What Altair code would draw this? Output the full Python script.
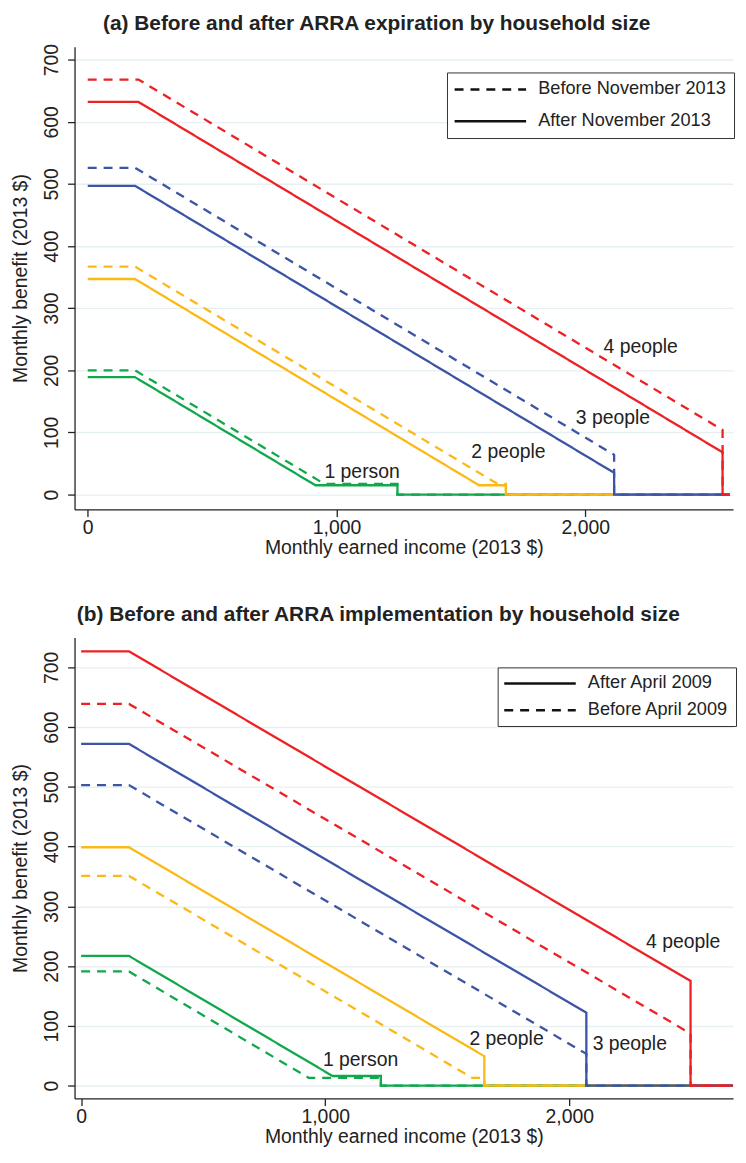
import altair as alt
import pandas as pd

FONT = "Liberation Sans, Arial, sans-serif"
TXT = "#222222"
FS = 19.5          # axis / label text size
LEG_FS = 18.3      # legend text size

HOUSEHOLDS = ["1 person", "2 people", "3 people", "4 people"]
COLORS = ["#11A84C", "#FBB916", "#3B54A5", "#ED2024"]
Y_TICKS = [0, 100, 200, 300, 400, 500, 600, 700]
X_TICKS = [0, 1000, 2000]

# ---------- panel (a): ARRA expiration (2013 $) ----------
A_TITLE = "(a) Before and after ARRA expiration by household size"
A_BEFORE = "Before November 2013"
A_AFTER = "After November 2013"
A_BEFORE_X = [[0, 190, 952, 1245, 1245, 2581],
              [0, 190, 1648, 1681, 1681, 2581],
              [0, 190, 2116, 2116, 2581],
              [0, 204, 2552, 2552, 2581]]
A_BEFORE_Y = [[200, 200, 17, 17, 0, 0],
              [367, 367, 17, 17, 0, 0],
              [526, 526, 64, 0, 0],
              [668, 668, 104, 0, 0]]
A_AFTER_X = [[0, 190, 915, 1245, 1245, 2581],
             [0, 190, 1573, 1681, 1681, 2581],
             [0, 190, 2116, 2116, 2581],
             [0, 204, 2552, 2552, 2581]]
A_AFTER_Y = [[189, 189, 15, 15, 0, 0],
             [347, 347, 15, 15, 0, 0],
             [497, 497, 35, 0, 0],
             [632, 632, 68, 0, 0]]
A_LABEL_X = [1103, 1691, 2111, 2223]
A_LABEL_Y = [37, 69, 123, 237]
A_XDOM = [-53, 2594]
A_YDOM = [-24, 721]

# ---------- panel (b): ARRA implementation (2013 $) ----------
B_TITLE = "(b) Before and after ARRA implementation by household size"
B_BEFORE = "Before April 2009"
B_AFTER = "After April 2009"
B_BEFORE_X = [[0, 196, 932, 1228, 1228, 2671],
              [0, 196, 1602, 1652, 1652, 2671],
              [0, 196, 2070, 2070, 2671],
              [0, 196, 2497, 2497, 2671]]
B_BEFORE_Y = [[191, 191, 13, 13, 0, 0],
              [351, 351, 13, 13, 0, 0],
              [503, 503, 53, 0, 0],
              [639, 639, 87, 0, 0]]
B_AFTER_X = [[0, 196, 1030, 1228, 1228, 2671],
             [0, 196, 1652, 1652, 2671],
             [0, 196, 2070, 2070, 2671],
             [0, 196, 2497, 2497, 2671]]
B_AFTER_Y = [[217, 217, 16, 16, 0, 0],
             [399, 399, 49, 0, 0],
             [572, 572, 122, 0, 0],
             [727, 727, 175, 0, 0]]
B_LABEL_X = [1145, 1743, 2248, 2467]
B_LABEL_Y = [43, 78, 69, 241]
B_XDOM = [-27, 2671]
B_YDOM = [-21.6, 750]

DASH = [9, 7]
SOLID = [1, 0]
PLOT_W = 663

# legend sample: a 72px wide stroke drawn as a custom path (keeps rows compact)
SYM_PATH = "M-9,0H9"
SYM_SIZE = 64
SYM_OFFSET = 26.5
LAB_OFFSET = 39


def panel(title, before, after, bx, by, ax, ay, legend_order, lx, ly, xdom, ydom,
          leg_x, leg_y, row_pad, leg_pad, height, title_offset):
    rows = []
    for k, hh in enumerate(HOUSEHOLDS):
        for period, xs, ys in [(before, bx[k], by[k]), (after, ax[k], ay[k])]:
            for i, (xv, yv) in enumerate(zip(xs, ys)):
                rows.append({"x": xv, "y": yv, "hh": hh, "period": period,
                             "key": hh + "|" + period, "i": i})
    df = pd.DataFrame(rows)
    dash_range = [DASH if p == before else SOLID for p in legend_order]

    xenc = alt.X("x:Q", scale=alt.Scale(domain=xdom, nice=False, zero=False),
                 axis=alt.Axis(values=X_TICKS, format=",d", title="Monthly earned income (2013 $)",
                               grid=False, labelFlush=False))
    yenc = alt.Y("y:Q", scale=alt.Scale(domain=ydom, nice=False, zero=False),
                 axis=alt.Axis(values=Y_TICKS, title="Monthly benefit (2013 $)", grid=True,
                               labelFlush=False))
    cenc = alt.Color("hh:N", scale=alt.Scale(domain=HOUSEHOLDS, range=COLORS), legend=None)
    denc = alt.StrokeDash(
        "period:N", title=None,
        scale=alt.Scale(domain=legend_order, range=dash_range),
        legend=alt.Legend(orient="none", legendX=leg_x, legendY=leg_y, direction="vertical",
                          symbolType=SYM_PATH, symbolSize=SYM_SIZE, symbolOffset=SYM_OFFSET,
                          symbolStrokeWidth=2.4, symbolStrokeColor="#111111",
                          labelFontSize=LEG_FS, labelLimit=400, labelOffset=LAB_OFFSET,
                          labelColor=TXT, fillColor="white", strokeColor="#333333",
                          padding=leg_pad, rowPadding=row_pad, cornerRadius=0))

    layers = []
    for hh in HOUSEHOLDS:
        for period in [before, after]:
            key = hh + "|" + period
            layers.append(
                alt.Chart(df).transform_filter(alt.datum.key == key)
                .mark_line(strokeWidth=2.3, strokeCap="butt")
                .encode(x=xenc, y=yenc, color=cenc, strokeDash=denc, order=alt.Order("i:Q"))
            )
    lab = pd.DataFrame({"x": lx, "y": ly, "label": HOUSEHOLDS})
    layers.append(
        alt.Chart(lab).mark_text(fontSize=FS, color=TXT, align="center", baseline="middle")
        .encode(x=xenc, y=yenc, text="label:N")
    )
    return alt.layer(*layers).properties(
        width=PLOT_W, height=height,
        title=alt.TitleParams(title, anchor="middle", frame="bounds", fontSize=21,
                              fontWeight="bold", offset=title_offset, color=TXT, dx=4))


top = panel(A_TITLE, A_BEFORE, A_AFTER, A_BEFORE_X, A_BEFORE_Y, A_AFTER_X, A_AFTER_Y,
            [A_BEFORE, A_AFTER], A_LABEL_X, A_LABEL_Y, A_XDOM, A_YDOM, 375, 26, 13, 8,
            466, 10)
bottom = panel(B_TITLE, B_BEFORE, B_AFTER, B_BEFORE_X, B_BEFORE_Y, B_AFTER_X, B_AFTER_Y,
               [B_AFTER, B_BEFORE], B_LABEL_X, B_LABEL_Y, B_XDOM, B_YDOM, 426, 30, 8, 7,
               464, 12.5)

chart = (
    alt.vconcat(top, bottom, spacing=47)
    .resolve_scale(x="independent", y="independent", color="independent", strokeDash="independent")
    .resolve_legend(strokeDash="independent")
    .properties(padding={"left": 3, "top": 0, "right": 0, "bottom": 0})
    .configure(font=FONT)
    .configure_view(strokeOpacity=0)
    .configure_axis(domainColor="#222222", domainWidth=1.3, tickColor="#222222", tickWidth=1.3,
                    tickSize=7, labelFontSize=FS, titleFontSize=FS, labelColor=TXT,
                    titleColor=TXT, titleFontWeight="normal", gridColor="#E6EFF1", gridWidth=1.4)
    .configure_axisY(labelAngle=270, labelAlign="center", labelBaseline="bottom",
                     labelPadding=6, titlePadding=11)
    .configure_axisX(labelPadding=2, titlePadding=2)
)

chart.save("out.html", embed_options={"renderer": "svg", "actions": False})
